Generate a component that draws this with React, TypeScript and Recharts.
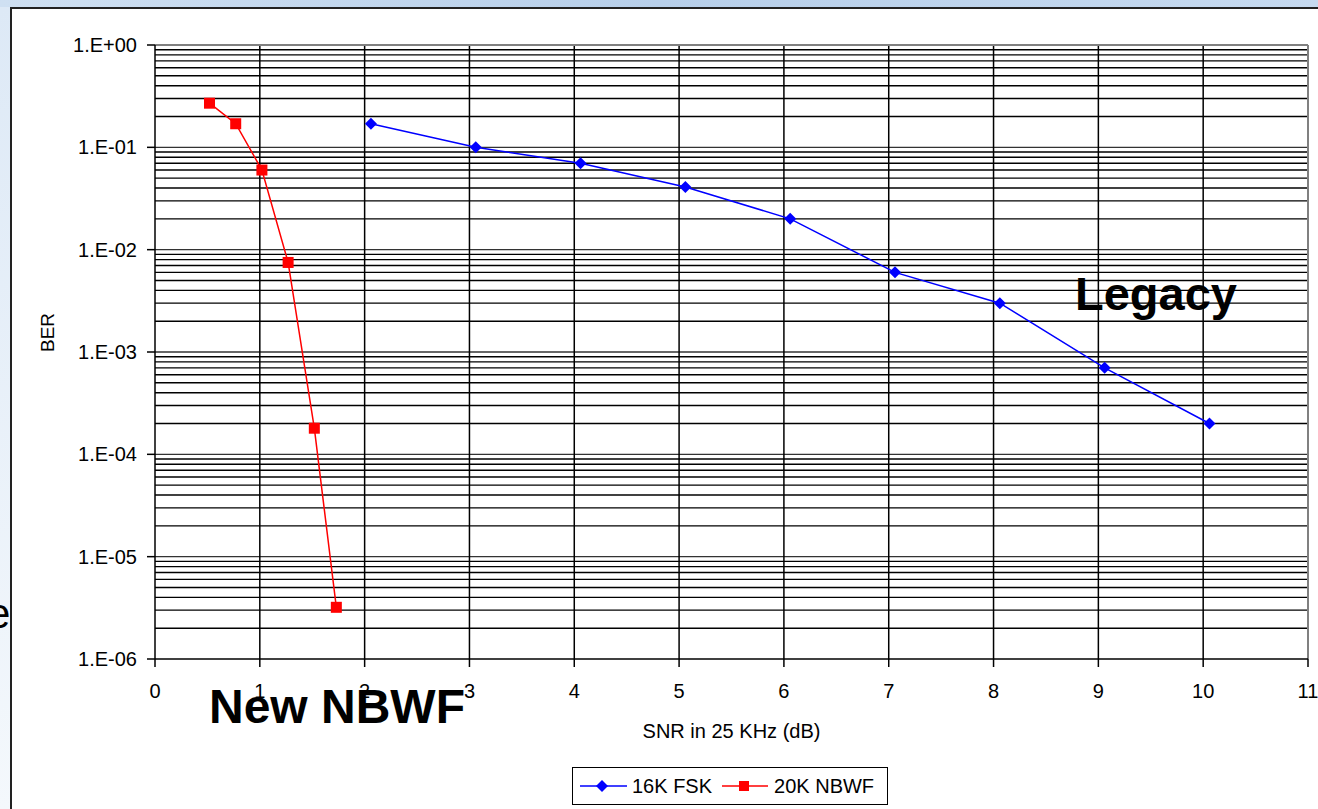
import React from 'react';
import {
  LineChart,
  Line,
  XAxis,
  YAxis,
  ReferenceLine,
  Legend,
} from 'recharts';

// 16K FSK (legacy)
const fskSnr = [2.06, 3.06, 4.06, 5.06, 6.06, 7.06, 8.06, 9.06, 10.06];
const fskBer = [0.17, 0.1, 0.07, 0.041, 0.02, 0.006, 0.003, 0.0007, 0.0002];

// 20K NBWF (new)
const nbwfSnr = [0.52, 0.77, 1.02, 1.27, 1.52, 1.73];
const nbwfBer = [0.27, 0.17, 0.06, 0.0075, 0.00018, 0.0000032];

const xTicks = [0, 1, 2, 3, 4, 5, 6, 7, 8, 9, 10, 11];
const yTicks = [1e-6, 1e-5, 1e-4, 1e-3, 1e-2, 1e-1, 1];
const yLabels = ['1.E-06', '1.E-05', '1.E-04', '1.E-03', '1.E-02', '1.E-01', '1.E+00'];

const FONT = '"Liberation Sans", Arial, sans-serif';

const fskData = fskSnr.map((x, i) => ({ x, fsk: fskBer[i] }));
const nbwfData = nbwfSnr.map((x, i) => ({ x, nbwf: nbwfBer[i] }));

// minor log gridlines: 2..9 of every decade
const minorLines: number[] = [];
for (let d = -6; d < 0; d++) {
  for (let m = 2; m <= 9; m++) minorLines.push(m * Math.pow(10, d));
}

const Diamond = (props: any) => {
  const { cx, cy } = props;
  if (cx == null || cy == null) return null;
  return <path d={`M${cx},${cy - 6} L${cx + 6},${cy} L${cx},${cy + 6} L${cx - 6},${cy} Z`} fill="#0000ff" />;
};

const Square = (props: any) => {
  const { cx, cy } = props;
  if (cx == null || cy == null) return null;
  return <rect x={cx - 5.5} y={cy - 5.5} width={11} height={11} fill="#ff0000" />;
};

const LegendBox = () => (
  <div style={{
    width: 316, height: 38, border: '1.5px solid #000', background: '#fff',
    display: 'flex', alignItems: 'center', fontFamily: FONT, fontSize: 20, boxSizing: 'border-box',
  }}>
    <svg width={48} height={14} style={{ marginLeft: 7 }}>
      <line x1={0} y1={7} x2={47} y2={7} stroke="#0000ff" strokeWidth={1.5} />
      <path d="M22,1 L28,7 L22,13 L16,7 Z" fill="#0000ff" />
    </svg>
    <span style={{ marginLeft: 4 }}>16K FSK</span>
    <svg width={47} height={14} style={{ marginLeft: 10 }}>
      <line x1={0} y1={7} x2={46} y2={7} stroke="#ff0000" strokeWidth={1.5} />
      <rect x={17} y={2} width={10} height={10} fill="#ff0000" />
    </svg>
    <span style={{ marginLeft: 5 }}>20K NBWF</span>
  </div>
);

export default function App() {
  return (
    <div style={{ position: 'absolute', left: 0, top: 0, width: 1318, height: 809, overflow: 'hidden', background: '#fff' }}>
      {/* slide background strip + frame */}
      <div style={{ position: 'absolute', left: 0, top: 0, width: 1318, height: 7, background: 'linear-gradient(90deg,#cfe0f2,#b7cfea 50%,#c6daf0)' }} />
      <div style={{ position: 'absolute', left: 0, top: 7, width: 10, height: 802, background: 'linear-gradient(180deg,#dde9f6,#f4f8fc)' }} />
      <div style={{ position: 'absolute', left: 10, top: 7, width: 1308, height: 802, borderLeft: '2px solid #222', borderTop: '2px solid #222', boxSizing: 'border-box' }} />
      <div style={{ position: 'absolute', left: -13, top: 590, fontFamily: FONT, fontSize: 42, color: '#000' }}>e</div>

      <div style={{ position: 'absolute', left: 0, top: 0 }}>
        <LineChart width={1318} height={809} margin={{ top: 45, right: 10, left: 55, bottom: 72 }}>
          <XAxis
            dataKey="x"
            type="number"
            domain={[0, 11]}
            ticks={xTicks}
            allowDuplicatedCategory={false}
            stroke="#000"
            axisLine={{ stroke: '#000', strokeWidth: 1.5 }}
            tickLine={{ stroke: '#000', strokeWidth: 1.5 }}
            tickSize={8}
            tickMargin={17}
            height={40}
            tick={{ fill: '#000', fontSize: 20, fontFamily: FONT }}
            label={{ value: 'SNR in 25 KHz (dB)', position: 'insideBottom', offset: -39, fill: '#000', fontSize: 20, fontFamily: FONT }}
          />
          <YAxis
            type="number"
            scale="log"
            domain={[1e-6, 1]}
            ticks={yTicks}
            allowDataOverflow
            width={100}
            axisLine={{ stroke: '#000', strokeWidth: 1.5 }}
            tickLine={{ stroke: '#000', strokeWidth: 1.5 }}
            tickSize={8}
            tickMargin={10}
            tickFormatter={(v: number) => yLabels[yTicks.findIndex(t => Math.abs(Math.log10(t) - Math.log10(v)) < 1e-6)] ?? ''}
            tick={{ fill: '#000', fontSize: 20, fontFamily: FONT }}
            label={{ value: 'BER', angle: -90, position: 'insideLeft', offset: -5, fill: '#000', fontSize: 19, fontFamily: FONT, dx: -3 }}
          />
          {minorLines.map(v => (
            <ReferenceLine key={'m' + v} y={v} stroke="#000" strokeWidth={1.4} ifOverflow="hidden" />
          ))}
          {yTicks.slice(1, -1).map(v => (
            <ReferenceLine key={'d' + v} y={v} stroke="#333" strokeWidth={1.4} />
          ))}
          {xTicks.slice(1, -1).map(v => (
            <ReferenceLine key={'v' + v} x={v} stroke="#000" strokeWidth={1.5} />
          ))}
          <ReferenceLine y={1} stroke="#808080" strokeWidth={2} />
          <ReferenceLine x={11} stroke="#808080" strokeWidth={2} />
          <Line
            data={fskData}
            dataKey="fsk"
            name="16K FSK"
            stroke="#0000ff"
            strokeWidth={1.5}
            dot={<Diamond />}
            activeDot={false}
            isAnimationActive={false}
          />
          <Line
            data={nbwfData}
            dataKey="nbwf"
            name="20K NBWF"
            stroke="#ff0000"
            strokeWidth={1.5}
            dot={<Square />}
            activeDot={false}
            isAnimationActive={false}
          />
          <Legend
            content={<LegendBox />}
            wrapperStyle={{ position: 'absolute', left: 572, top: 767, width: 316, height: 38, bottom: 'auto' }}
          />
        </LineChart>
      </div>

      <div style={{ position: 'absolute', left: 1075, top: 270, fontFamily: FONT, fontSize: 47, fontWeight: 'bold', color: '#000', lineHeight: 1 }}>Legacy</div>
      <div style={{ position: 'absolute', left: 209, top: 683, fontFamily: FONT, fontSize: 48, fontWeight: 'bold', color: '#000', lineHeight: 1 }}>New NBWF</div>
    </div>
  );
}
